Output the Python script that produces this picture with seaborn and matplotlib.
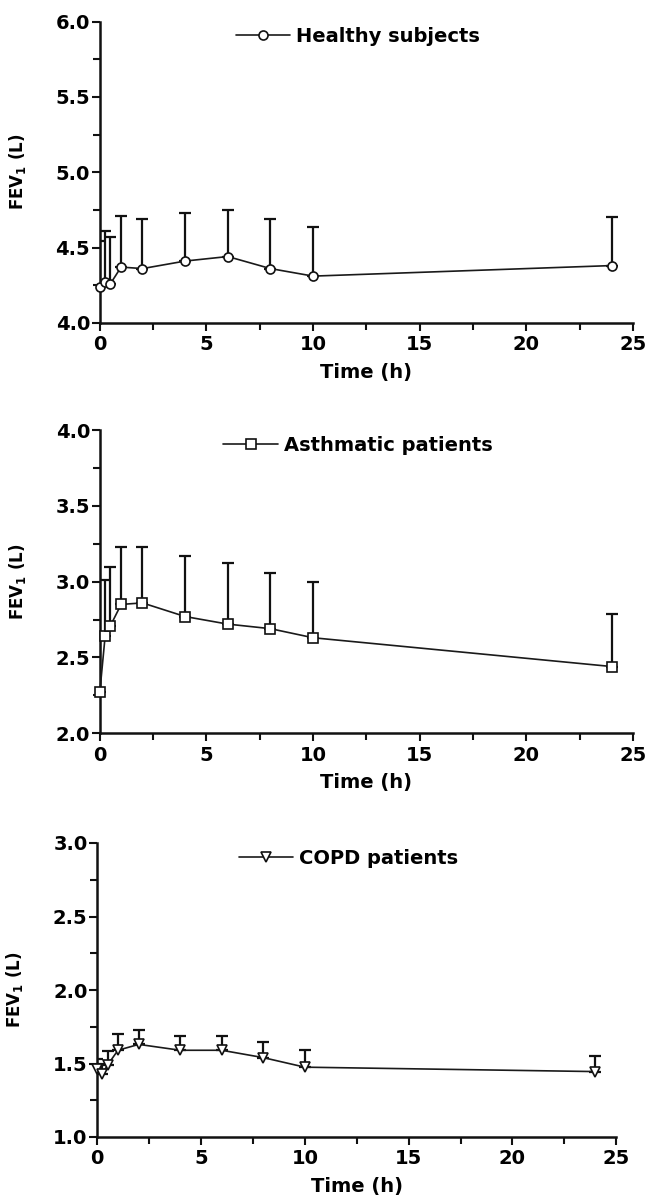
import numpy as np
import pandas as pd
import matplotlib
matplotlib.use("Agg")
import matplotlib.pyplot as plt
import seaborn as sns
from matplotlib.ticker import MultipleLocator, FormatStrFormatter

# ---- data ----
time_h = [0, 0.25, 0.5, 1, 2, 4, 6, 8, 10, 24]

healthy_mean = [4.235, 4.27, 4.26, 4.37, 4.36, 4.41, 4.44, 4.36, 4.31, 4.38]
healthy_sd = [0.305, 0.34, 0.31, 0.34, 0.33, 0.32, 0.31, 0.33, 0.325, 0.32]

asthma_mean = [2.27, 2.64, 2.71, 2.85, 2.86, 2.77, 2.72, 2.69, 2.63, 2.44]
asthma_sd = [0.35, 0.37, 0.385, 0.38, 0.37, 0.40, 0.405, 0.37, 0.37, 0.35]

copd_mean = [1.46, 1.43, 1.49, 1.59, 1.63, 1.59, 1.59, 1.54, 1.475, 1.445]
copd_sd = [0.07, 0.07, 0.095, 0.11, 0.10, 0.10, 0.10, 0.105, 0.12, 0.105]

group_labels = ["Healthy subjects", "Asthmatic patients", "COPD patients"]
markers = ["o", "s", "v"]
y_limits = [(4.0, 6.0), (2.0, 4.0), (1.0, 3.0)]
x_ticks = [0, 5, 10, 15, 20, 25]
x_label = "Time (h)"
y_label = r"FEV$_\mathbf{1}$ (L)"

sns.set_theme(style="ticks")
plt.rcParams["font.family"] = ["DejaVu Sans"]
plt.rcParams["font.weight"] = "bold"
plt.rcParams["mathtext.fontset"] = "dejavusans"
plt.rcParams["mathtext.default"] = "bf"
plt.rcParams["text.color"] = "black"
plt.rcParams["axes.labelcolor"] = "black"
plt.rcParams["xtick.color"] = "black"
plt.rcParams["ytick.color"] = "black"
plt.rcParams["xtick.labelcolor"] = "black"
plt.rcParams["ytick.labelcolor"] = "black"

fig = plt.figure(figsize=(6.48, 12), dpi=100)
positions = [
    [0.154, 0.731, 0.823, 0.251],
    [0.154, 0.389, 0.823, 0.2525],
    [0.150, 0.0525, 0.801, 0.245],
]

means = [healthy_mean, asthma_mean, copd_mean]
sds = [healthy_sd, asthma_sd, copd_sd]
marker_sizes = [6.5, 6.5, 7.5]

for i in range(3):
    ax = fig.add_axes(positions[i])
    df = pd.DataFrame({"Time": time_h, "FEV1": means[i], "group": group_labels[i]})
    # upper-only SD error bars
    ax.errorbar(time_h, means[i], yerr=[np.zeros(len(time_h)), sds[i]],
                fmt="none", ecolor="#111111", elinewidth=1.6, capsize=4.5,
                capthick=1.6, zorder=2)
    sns.lineplot(data=df, x="Time", y="FEV1", hue="group", palette=["#1a1a1a"],
                 marker=markers[i], markersize=marker_sizes[i],
                 markerfacecolor="white", markeredgecolor="#111111",
                 markeredgewidth=1.2, linewidth=1.2, ax=ax, zorder=3,
                 clip_on=False)
    ax.set_xlim(0, 25)
    ax.set_ylim(*y_limits[i])
    ax.set_xticks(x_ticks)
    ax.xaxis.set_minor_locator(MultipleLocator(2.5))
    ax.yaxis.set_major_locator(MultipleLocator(0.5))
    ax.yaxis.set_minor_locator(MultipleLocator(0.25))
    ax.yaxis.set_major_formatter(FormatStrFormatter("%.1f"))
    for s in ["top", "right"]:
        ax.spines[s].set_visible(False)
    for s in ["left", "bottom"]:
        ax.spines[s].set_linewidth(1.8)
        ax.spines[s].set_color("#111111")
    ax.tick_params(axis="both", which="major", length=6, width=1.5,
                   labelsize=14, color="#111111", labelcolor="black")
    ax.tick_params(axis="x", which="major", pad=3)
    ax.tick_params(axis="y", which="major", pad=1)
    ax.tick_params(axis="both", which="minor", length=5, width=1.5,
                   color="#111111")
    for lab in ax.get_xticklabels() + ax.get_yticklabels():
        lab.set_fontweight("bold")
    ax.set_xlabel(x_label, fontsize=14, fontweight="bold", labelpad=6,
                  color="black")
    ax.set_ylabel(y_label, fontsize=12, fontweight="bold", labelpad=20,
                  color="black")
    leg = ax.legend(loc="upper center", bbox_to_anchor=(0.484, 1.04),
                    frameon=False, handlelength=2.8, handletextpad=0.3,
                    prop={"weight": "bold", "size": 14})
    for t in leg.get_texts():
        t.set_color("black")
    ax.grid(False)

fig.savefig("out.png", dpi=100)
